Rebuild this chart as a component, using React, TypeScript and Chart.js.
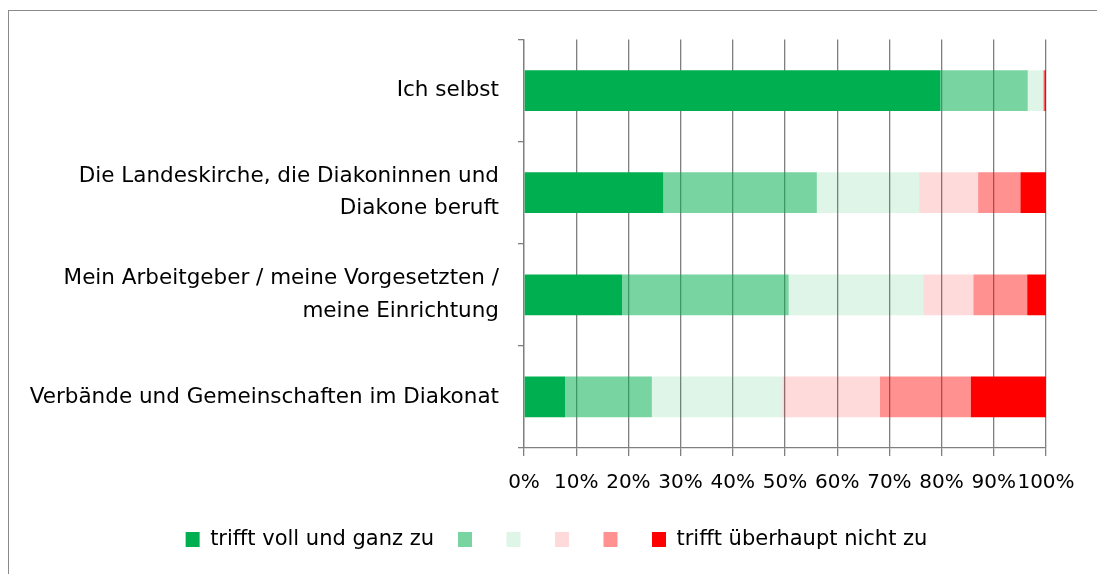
import React, { useEffect, useRef } from "react";
import { Chart, registerables } from "chart.js";

Chart.register(...registerables);

const categories: (string | string[])[] = [
  "Ich selbst",
  ["Die Landeskirche, die Diakoninnen und", "Diakone beruft"],
  ["Mein Arbeitgeber / meine Vorgesetzten /", "meine Einrichtung"],
  "Verbände und Gemeinschaften im Diakonat",
];

const seriesNames = [
  "trifft voll und ganz zu",
  "",
  "",
  "",
  "",
  "trifft überhaupt nicht zu",
];

const level1 = [79.8, 26.7, 18.8, 7.9];
const level2 = [16.7, 29.4, 31.9, 16.6];
const level3 = [2.9, 19.6, 25.8, 25.0];
const level4 = [0.1, 11.3, 9.6, 18.7];
const level5 = [0.2, 8.1, 10.3, 17.4];
const level6 = [0.3, 4.9, 3.6, 14.4];

const xTickValues = [0, 10, 20, 30, 40, 50, 60, 70, 80, 90, 100];

const seriesColors = [
  "rgb(0,176,80)",
  "rgba(0,176,80,0.53)",
  "rgba(0,176,80,0.13)",
  "rgba(255,0,0,0.145)",
  "rgba(255,0,0,0.43)",
  "rgb(255,0,0)",
];

const FONT = "'DejaVu Sans', sans-serif";
const GRID = "#7f7f7f";
const LEGEND_SHIFT = 29;

export default function App() {
  const canvasRef = useRef<HTMLCanvasElement | null>(null);

  useEffect(() => {
    if (!canvasRef.current) return;
    const values = [level1, level2, level3, level4, level5, level6];
    const shiftLegend = {
      id: "shiftLegend",
      afterLayout(chart: any) {
        if (chart.legend) {
          chart.legend.left += LEGEND_SHIFT;
          chart.legend.right += LEGEND_SHIFT;
        }
      },
    };
    const chart = new Chart(canvasRef.current, {
      type: "bar",
      data: {
        labels: categories,
        datasets: values.map((v, i) => ({
          label: seriesNames[i],
          data: v,
          backgroundColor: seriesColors[i],
          borderWidth: 0,
          barPercentage: 0.4,
          categoryPercentage: 1,
        })),
      },
      options: {
        indexAxis: "y",
        responsive: false,
        animation: false,
        layout: { padding: { top: 28.5, right: 51, left: 0, bottom: 14 } },
        scales: {
          x: {
            stacked: true,
            min: 0,
            max: 100,
            afterBuildTicks: (s: any) => {
              s.ticks = xTickValues.map((v) => ({ value: v }));
            },
            afterFit: (s: any) => {
              s.height = 57;
              s.paddingLeft = 0;
              s.paddingRight = 0;
            },
            ticks: {
              callback: (v: any) => v + "%",
              autoSkip: false,
              maxRotation: 0,
              minRotation: 0,
              color: "#000",
              font: { family: FONT, size: 20 },
              padding: 15,
            },
            grid: { color: GRID, lineWidth: 1.3, tickLength: 8, drawTicks: true },
            border: { color: GRID, width: 1.3 },
          },
          y: {
            stacked: true,
            afterFit: (s: any) => {
              s.width = 515;
              s.paddingTop = 0;
              s.paddingBottom = 0;
            },
            ticks: {
              color: "#000",
              font: { family: FONT, size: 21.5, lineHeight: 1.5 },
              padding: 19,
            },
            grid: {
              offset: true,
              drawOnChartArea: false,
              tickLength: 6,
              color: GRID,
              lineWidth: 1.3,
            },
            border: { color: GRID, width: 1.3 },
          },
        },
        plugins: {
          legend: {
            position: "bottom",
            labels: {
              boxWidth: 14,
              boxHeight: 15,
              padding: 24,
              color: "#000",
              font: { family: FONT, size: 21 },
            },
          },
          tooltip: { enabled: false },
        },
      },
      plugins: [shiftLegend],
    } as any);
    return () => chart.destroy();
  }, []);

  return (
    <div
      style={{
        position: "absolute",
        left: 8,
        top: 10,
        width: 1089,
        height: 564,
        borderTop: "1px solid #8a8a8a",
        borderLeft: "1px solid #8a8a8a",
        background: "#fff",
      }}
    >
      <canvas
        ref={canvasRef}
        width={1088}
        height={563}
        style={{ display: "block", width: 1088, height: 563 }}
      />
    </div>
  );
}
